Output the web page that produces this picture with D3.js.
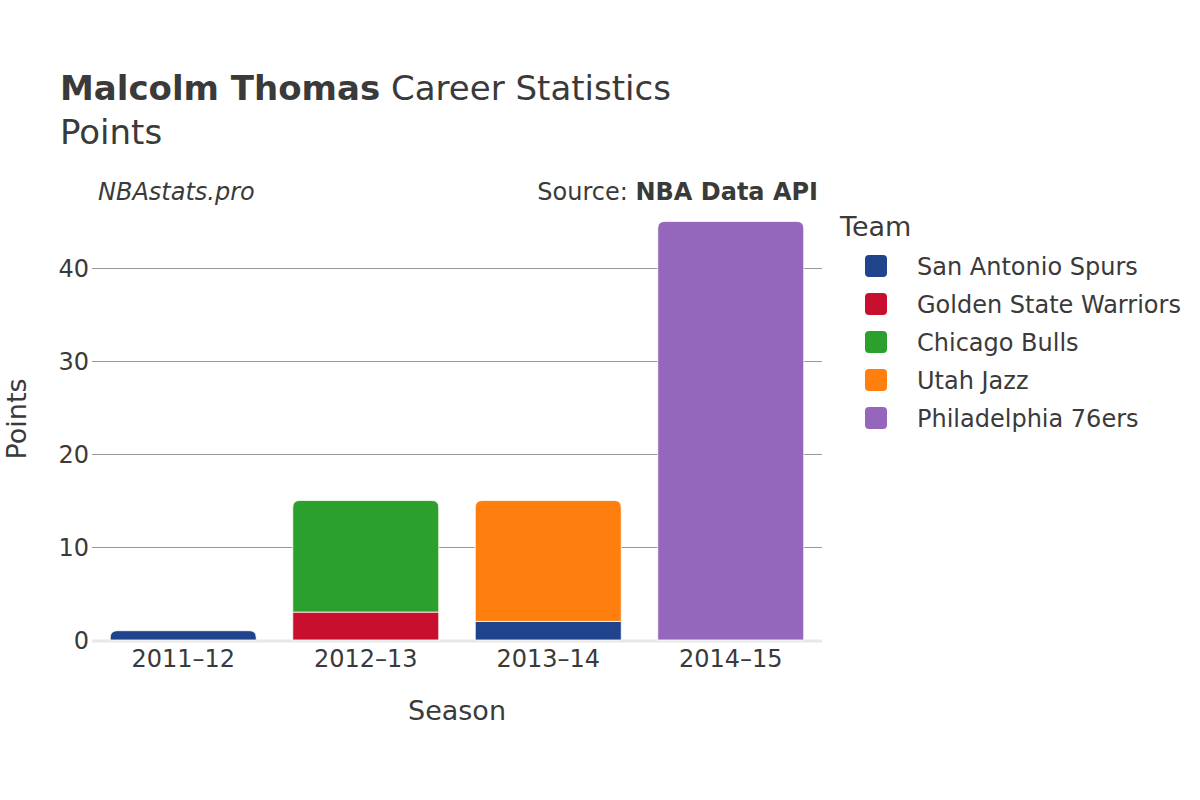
<!DOCTYPE html>
<html>
<head>
<meta charset="utf-8">
<script src="https://cdn.jsdelivr.net/npm/d3@7/dist/d3.min.js"></script>
<style>
  html, body { margin: 0; padding: 0; background: #fff; }
  svg { display: block; font-family: "DejaVu Sans", sans-serif; }
</style>
</head>
<body>
<div id="chart"></div>
<script>
const seasons = ["2011–12", "2012–13", "2013–14", "2014–15"];
const teams = ["San Antonio Spurs", "Golden State Warriors", "Chicago Bulls", "Utah Jazz", "Philadelphia 76ers"];
const teamColors = ["#1f448b", "#c8102e", "#2ca02c", "#ff7f0e", "#9467bd"];
// points per season, one row per team (same order as teams)
const spursPts   = [1, 0, 2, 0];
const warriorsPts = [0, 3, 0, 0];
const bullsPts   = [0, 12, 0, 0];
const jazzPts    = [0, 0, 13, 0];
const sixersPts  = [0, 0, 0, 45];
const yTicks = [0, 10, 20, 30, 40];

(function() {
  const width = 1200, height = 800;
  const textColor = "#3a3a3a";
  const seriesValues = [spursPts, warriorsPts, bullsPts, jazzPts, sixersPts];

  const svg = d3.select("#chart").append("svg")
    .attr("width", width)
    .attr("height", height);

  const x = d3.scaleBand()
    .domain(seasons)
    .range([92, 822])
    .paddingInner(0.2)
    .paddingOuter(0.1);

  const y = d3.scaleLinear()
    .domain([0, 47.3])
    .range([640, 200]);

  // gridlines
  svg.append("g")
    .selectAll("line")
    .data(yTicks.filter(d => d > 0))
    .enter()
    .append("line")
    .attr("x1", 92)
    .attr("x2", 822)
    .attr("y1", d => Math.round(y(d)) + 0.5)
    .attr("y2", d => Math.round(y(d)) + 0.5)
    .attr("stroke", "#999")
    .attr("stroke-width", 1)
    .attr("shape-rendering", "crispEdges");

  // zero line
  svg.append("line")
    .attr("x1", 92).attr("x2", 822)
    .attr("y1", y(0) + 1).attr("y2", y(0) + 1)
    .attr("stroke", "#e8e8e8")
    .attr("stroke-width", 3);

  // stacked segments
  const rows = seasons.map((s, i) => {
    const row = { season: s };
    teams.forEach((t, j) => { row[t] = seriesValues[j][i]; });
    return row;
  });
  const stacked = d3.stack().keys(teams)(rows);

  const topKey = {};
  rows.forEach(r => {
    let last = null;
    teams.forEach(t => { if (r[t] > 0) last = t; });
    topKey[r.season] = last;
  });

  function segPath(x0, w, yTop, yBot, rounded) {
    const h = yBot - yTop;
    const r = rounded ? Math.min(7, h, w / 2) : 0;
    return `M ${x0} ${yBot}
      L ${x0} ${yTop + r}
      Q ${x0} ${yTop} ${x0 + r} ${yTop}
      L ${x0 + w - r} ${yTop}
      Q ${x0 + w} ${yTop} ${x0 + w} ${yTop + r}
      L ${x0 + w} ${yBot} Z`;
  }

  stacked.forEach((layer, j) => {
    svg.append("g")
      .selectAll("path")
      .data(layer.filter(d => d[1] - d[0] > 0))
      .enter()
      .append("path")
      .attr("d", d => segPath(x(d.data.season), x.bandwidth(), y(d[1]), y(d[0]),
                               topKey[d.data.season] === layer.key))
      .attr("fill", teamColors[j])
      .attr("stroke", "#fff")
      .attr("stroke-width", 0.8);
  });

  // y axis labels
  svg.append("g")
    .selectAll("text")
    .data(yTicks)
    .enter()
    .append("text")
    .attr("x", 89)
    .attr("y", d => y(d))
    .attr("dy", "0.36em")
    .attr("text-anchor", "end")
    .attr("font-size", 24)
    .attr("fill", textColor)
    .text(d => d);

  // x axis labels
  svg.append("g")
    .selectAll("text")
    .data(seasons)
    .enter()
    .append("text")
    .attr("x", d => x(d) + x.bandwidth() / 2)
    .attr("y", 667)
    .attr("text-anchor", "middle")
    .attr("font-size", 24)
    .attr("fill", textColor)
    .text(d => d);

  // axis titles
  svg.append("text")
    .attr("x", 457).attr("y", 720)
    .attr("text-anchor", "middle")
    .attr("font-size", 27)
    .attr("fill", textColor)
    .text("Season");

  svg.append("text")
    .attr("transform", "translate(26, 419) rotate(-90)")
    .attr("text-anchor", "middle")
    .attr("font-size", 27)
    .attr("fill", textColor)
    .text("Points");

  // title
  const title = svg.append("text")
    .attr("x", 60).attr("y", 100)
    .attr("font-size", 34)
    .attr("fill", textColor);
  title.append("tspan").attr("font-weight", "bold").text("Malcolm Thomas");
  title.append("tspan").text(" Career Statistics");

  svg.append("text")
    .attr("x", 60).attr("y", 144)
    .attr("font-size", 34)
    .attr("fill", textColor)
    .text("Points");

  svg.append("text")
    .attr("x", 98).attr("y", 200)
    .attr("font-size", 24)
    .attr("font-style", "italic")
    .attr("fill", textColor)
    .text("NBAstats.pro");

  const source = svg.append("text")
    .attr("x", 818).attr("y", 200)
    .attr("text-anchor", "end")
    .attr("font-size", 24)
    .attr("fill", textColor);
  source.append("tspan").text("Source: ");
  source.append("tspan").attr("font-weight", "bold").text("NBA Data API");

  // legend
  const legend = svg.append("g");
  legend.append("text")
    .attr("x", 840).attr("y", 236)
    .attr("font-size", 27)
    .attr("fill", textColor)
    .text("Team");

  const items = legend.selectAll("g.item")
    .data(teams)
    .enter()
    .append("g")
    .attr("class", "item")
    .attr("transform", (d, i) => `translate(0, ${266 + i * 38})`);

  items.append("rect")
    .attr("x", 865).attr("y", -11)
    .attr("width", 22).attr("height", 22)
    .attr("rx", 4)
    .attr("fill", (d, i) => teamColors[i]);

  items.append("text")
    .attr("x", 917).attr("y", 0)
    .attr("dy", "0.36em")
    .attr("font-size", 24)
    .attr("fill", textColor)
    .text(d => d);
})();
</script>
</body>
</html>
